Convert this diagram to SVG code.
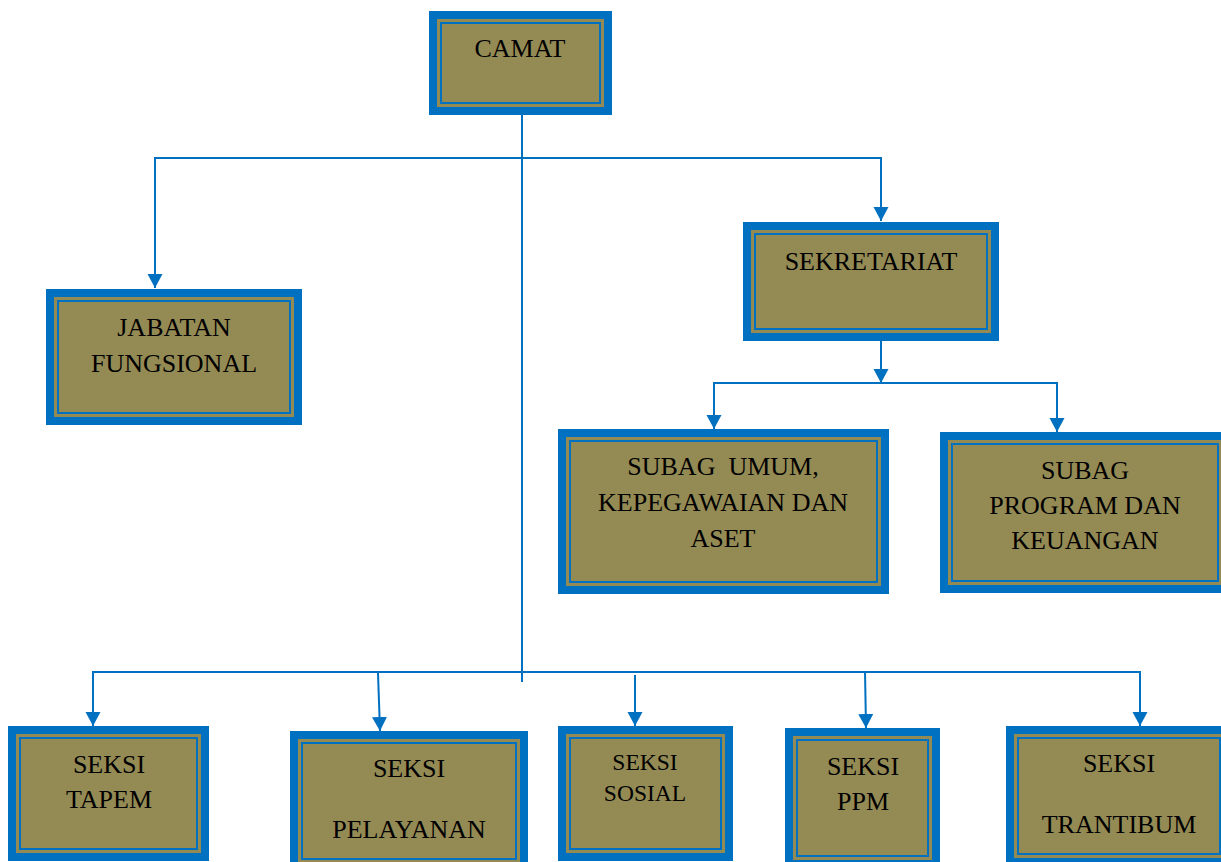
<svg xmlns="http://www.w3.org/2000/svg" width="1221" height="862" viewBox="0 0 1221 862">
<style>
.outer{fill:#0070C0}
.band{fill:#948A54}
.inner{fill:none;stroke:#0070C0;stroke-width:2}
.t{font-family:"Liberation Serif","Times New Roman",serif;font-size:26px;fill:#000;text-anchor:middle}
.s{font-size:23.5px}
.c{fill:none;stroke:#0070C0;stroke-width:2}
</style>
<defs>
<marker id="ah" markerUnits="userSpaceOnUse" markerWidth="16" markerHeight="16" refX="14" refY="7.5" orient="auto">
<path d="M0,0 L14,7.5 L0,15 Z" fill="#0070C0"/>
</marker>
</defs>
<rect width="1221" height="862" fill="#fff"/>

<g id="connectors">
<line class="c" x1="522" y1="115" x2="522" y2="682"/>
<polyline class="c" points="155,158 881,158"/>
<line class="c" x1="155" y1="157" x2="155" y2="288" marker-end="url(#ah)"/>
<line class="c" x1="881" y1="157" x2="881" y2="221" marker-end="url(#ah)"/>
<line class="c" x1="881" y1="341" x2="881" y2="383" marker-end="url(#ah)"/>
<line class="c" x1="714" y1="383" x2="1057" y2="383"/>
<line class="c" x1="714" y1="382" x2="714" y2="429" marker-end="url(#ah)"/>
<line class="c" x1="1057" y1="382" x2="1057" y2="432" marker-end="url(#ah)"/>
<line class="c" x1="93" y1="672" x2="1141" y2="672"/>
<line class="c" x1="93" y1="671" x2="93" y2="726" marker-end="url(#ah)"/>
<line class="c" x1="378" y1="673" x2="380" y2="731" marker-end="url(#ah)"/>
<line class="c" x1="635" y1="675" x2="635" y2="726" marker-end="url(#ah)"/>
<line class="c" x1="865" y1="671" x2="866" y2="728" marker-end="url(#ah)"/>
<line class="c" x1="1140" y1="671" x2="1140" y2="726" marker-end="url(#ah)"/>
</g>

<g id="camat">
<rect class="outer" x="429" y="11" width="183" height="104"/>
<rect class="band" x="437" y="19" width="167" height="88"/>
<rect class="inner" x="441" y="23" width="159" height="80"/>
<text class="t" x="520" y="57">CAMAT</text>
</g>

<g id="jabatan-fungsional">
<rect class="outer" x="46" y="289" width="256" height="136"/>
<rect class="band" x="54" y="297" width="240" height="120"/>
<rect class="inner" x="58" y="301" width="232" height="112"/>
<text class="t" x="174" y="336">JABATAN</text>
<text class="t" x="174" y="372">FUNGSIONAL</text>
</g>

<g id="sekretariat">
<rect class="outer" x="743" y="222" width="256" height="119"/>
<rect class="band" x="751" y="230" width="240" height="103"/>
<rect class="inner" x="755" y="234" width="232" height="95"/>
<text class="t" x="871" y="270">SEKRETARIAT</text>
</g>

<g id="subag-umum">
<rect class="outer" x="558" y="429" width="331" height="165"/>
<rect class="band" x="566" y="437" width="315" height="149"/>
<rect class="inner" x="570" y="441" width="307" height="141"/>
<text class="t" x="723" y="475" style="white-space:pre">SUBAG  UMUM,</text>
<text class="t" x="723" y="511">KEPEGAWAIAN DAN</text>
<text class="t" x="723" y="547">ASET</text>
</g>

<g id="subag-program">
<rect class="outer" x="940" y="432" width="290" height="161"/>
<rect class="band" x="948" y="440" width="274" height="145"/>
<rect class="inner" x="952" y="444" width="266" height="137"/>
<text class="t" x="1085" y="479">SUBAG</text>
<text class="t" x="1085" y="514">PROGRAM DAN</text>
<text class="t" x="1085" y="549">KEUANGAN</text>
</g>

<g id="seksi-tapem">
<rect class="outer" x="8" y="726" width="201" height="135"/>
<rect class="band" x="16" y="734" width="185" height="119"/>
<rect class="inner" x="20" y="738" width="177" height="111"/>
<text class="t" x="109" y="773">SEKSI</text>
<text class="t" x="109" y="808">TAPEM</text>
</g>

<g id="seksi-pelayanan">
<rect class="outer" x="290" y="731" width="238" height="140"/>
<rect class="band" x="298" y="739" width="222" height="124"/>
<rect class="inner" x="302" y="743" width="214" height="116"/>
<text class="t" x="409" y="777">SEKSI</text>
<text class="t" x="409" y="838">PELAYANAN</text>
</g>

<g id="seksi-sosial">
<rect class="outer" x="558" y="726" width="175" height="135"/>
<rect class="band" x="566" y="734" width="159" height="119"/>
<rect class="inner" x="570" y="738" width="151" height="111"/>
<text class="t s" x="645" y="770">SEKSI</text>
<text class="t s" x="645" y="801">SOSIAL</text>
</g>

<g id="seksi-ppm">
<rect class="outer" x="785" y="728" width="155" height="140"/>
<rect class="band" x="793" y="736" width="139" height="124"/>
<rect class="inner" x="797" y="740" width="131" height="116"/>
<text class="t" x="863" y="775">SEKSI</text>
<text class="t" x="863" y="810">PPM</text>
</g>

<g id="seksi-trantibum">
<rect class="outer" x="1006" y="726" width="226" height="140"/>
<rect class="band" x="1014" y="734" width="210" height="124"/>
<rect class="inner" x="1018" y="738" width="202" height="116"/>
<text class="t" x="1119" y="772">SEKSI</text>
<text class="t" x="1119" y="833">TRANTIBUM</text>
</g>
</svg>
